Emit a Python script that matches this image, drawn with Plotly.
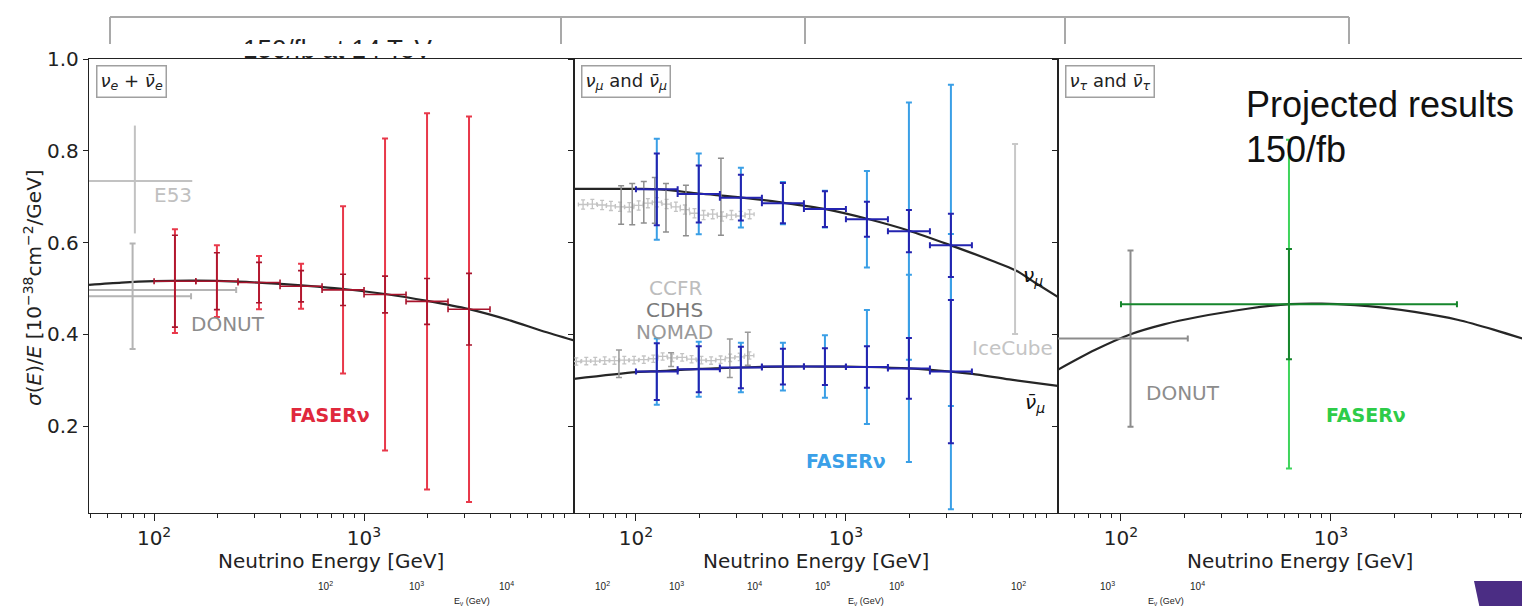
import math
import plotly.graph_objects as go

# ---------------- data ----------------
# FASERnu energy bins [GeV]
BIN_LO = [100, 158, 251, 398, 631, 1000, 1585, 2512]
BIN_HI = [158, 251, 398, 631, 1000, 1585, 2512, 3981]

# Panel 1 : nu_e + nubar_e
NUE_CURVE_E = [49, 70, 100, 160, 250, 400, 600, 800, 1260, 2000, 3160, 5000, 7000, 10000]
NUE_CURVE_Y = [0.508, 0.513, 0.516, 0.517, 0.515, 0.510, 0.504, 0.499, 0.488, 0.473, 0.455, 0.430, 0.408, 0.387]
NUE_Y = [0.516, 0.516, 0.513, 0.505, 0.497, 0.487, 0.472, 0.455]
NUE_ERR_TOT = [0.113, 0.078, 0.058, 0.049, 0.182, 0.340, 0.410, 0.420]
NUE_ERR_STAT = [0.100, 0.062, 0.044, 0.034, 0.034, 0.040, 0.050, 0.078]

E53_E = [81]
E53_Y = [0.734]
E53_YHI = [0.855]
E53_YLO = [0.620]
E53_ELO = [35]
E53_EHI = [152]

DONUT_E_E = [79, 80]
DONUT_E_Y = [0.483, 0.497]
DONUT_E_YERR = [0.115, 0.0]
DONUT_E_ELO = [35, 35]
DONUT_E_EHI = [150, 246]

# Panel 2 : nu_mu and nubar_mu
NUMU_CURVE_E = [50, 100, 130, 200, 320, 500, 800, 1260, 2000, 3160, 5000, 6400, 8000, 10200]
NUMU_CURVE_Y = [0.717, 0.717, 0.716, 0.707, 0.698, 0.687, 0.673, 0.652, 0.626, 0.594, 0.560, 0.540, 0.512, 0.482]
NUBAR_CURVE_E = [50, 100, 130, 200, 320, 500, 800, 1260, 2000, 3160, 4000, 6000, 10200]
NUBAR_CURVE_Y = [0.303, 0.318, 0.320, 0.325, 0.328, 0.330, 0.330, 0.329, 0.326, 0.319, 0.314, 0.302, 0.288]

NUMU_Y = [0.716, 0.706, 0.698, 0.686, 0.673, 0.651, 0.625, 0.594]
NUMU_ERR_TOT = [0.110, 0.088, 0.065, 0.046, 0.040, 0.105, 0.280, 0.350]
NUMU_ERR_STAT = [0.078, 0.062, 0.050, 0.044, 0.039, 0.038, 0.046, 0.069]
NUBAR_Y = [0.319, 0.324, 0.328, 0.330, 0.330, 0.329, 0.326, 0.319]
NUBAR_ERR_TOT = [0.072, 0.060, 0.054, 0.052, 0.068, 0.124, 0.204, 0.300]
NUBAR_ERR_STAT = [0.062, 0.050, 0.045, 0.039, 0.040, 0.045, 0.066, 0.156]

NUMU_CCFR_E = [56, 62, 69, 76, 84, 93, 103, 114, 126, 140, 155, 171, 190, 210, 232, 257, 285, 315, 348]
NUMU_CCFR_Y = [0.683, 0.684, 0.682, 0.680, 0.678, 0.677, 0.681, 0.686, 0.688, 0.684, 0.678, 0.672,
               0.664, 0.660, 0.662, 0.657, 0.660, 0.658, 0.662]
NUMU_CDHS_E = [85, 96, 109, 123, 139, 173, 254]
NUMU_CDHS_Y = [0.682, 0.684, 0.688, 0.692, 0.676, 0.670, 0.700]
NUMU_CDHS_ERR = [0.042, 0.045, 0.045, 0.050, 0.053, 0.055, 0.084]

NUBAR_CCFR_E = [52, 58, 64, 71, 79, 88, 98, 109, 121, 134, 149, 166, 184, 205, 228, 253, 281, 312, 347]
NUBAR_CCFR_Y = [0.341, 0.342, 0.342, 0.343, 0.343, 0.344, 0.344, 0.345, 0.347, 0.352, 0.349, 0.350,
                0.346, 0.344, 0.343, 0.345, 0.349, 0.351, 0.354]
NUBAR_CDHS_E = [83, 147, 280, 341]
NUBAR_CDHS_Y = [0.336, 0.345, 0.348, 0.369]
NUBAR_CDHS_ERR = [0.030, 0.015, 0.042, 0.036]

ICECUBE_E = [6390]
ICECUBE_Y = [0.608]
ICECUBE_ERR = [0.207]

# Panel 3 : nu_tau and nubar_tau
NUTAU_CURVE_E = [50, 75, 112, 160, 232, 400, 638, 900, 1300, 1730, 2500, 4000, 6000, 9700]
NUTAU_CURVE_Y = [0.323, 0.366, 0.401, 0.422, 0.438, 0.456, 0.466, 0.467, 0.464, 0.459, 0.449, 0.432, 0.410, 0.380]
NUTAU_LO = [100]
NUTAU_HI = [3981]
NUTAU_Y = [0.466]
NUTAU_ERR_TOT = [0.358]
NUTAU_ERR_STAT = [0.120]

DONUT_T_E = [111]
DONUT_T_Y = [0.391]
DONUT_T_YERR = [0.192]
DONUT_T_ELO = [35]
DONUT_T_EHI = [208]

X_TICKS = [100, 1000]
X_TICKTEXT = ["10<sup>2</sup>", "10<sup>3</sup>"]
X_MINOR = [50, 60, 70, 80, 90] + [m * 100 for m in range(2, 10)] + [m * 1000 for m in range(2, 10)]
Y_TICKS = [0.2, 0.4, 0.6, 0.8, 1.0]
Y_TICKTEXT = ["0.2", "0.4", "0.6", "0.8", "1.0"]

# ---------------- geometry ----------------
W, H = 1530, 606
ML, MR, MT, MB = 81, 0, 51, 101
PW = W - ML - MR
PH = H - MT - MB


def px(x):
    return (x - ML) / PW


def py(y):
    return (H - MB - y) / PH


D1 = [0.0, px(566)]
D2 = [px(566), px(1050)]
D3 = [px(1050), 1.0]
R1 = [1.69, 4.0]
R2 = [1.705, 4.01]
R3 = [1.70, 3.986]
YR = [0.011, 1.0]

FONT = "DejaVu Sans"
fig = go.Figure()


def centers(lo, hi):
    return [math.sqrt(a * b) for a, b in zip(lo, hi)]


def add_line(xs, ys, ax, color="#262626", width=2.2):
    fig.add_trace(go.Scatter(x=xs, y=ys, mode="lines", line=dict(color=color, width=width, shape="spline", smoothing=0.8),
                             xaxis="x" + ax, yaxis="y" + ax, showlegend=False, hoverinfo="skip"))


def add_err(xs, ys, ax, color, yerr=None, yplus=None, yminus=None, xplus=None, xminus=None, xcolor=None,
            cap=3, thick=1.6, xpct=None):
    ey = None
    if yerr is not None:
        ey = dict(type="data", array=yerr, color=color, thickness=thick, width=cap, visible=True)
    elif yplus is not None:
        ey = dict(type="data", array=yplus, arrayminus=yminus, symmetric=False, color=color, thickness=thick,
                  width=cap, visible=True)
    ex = None
    if xplus is not None:
        ex = dict(type="data", array=xplus, arrayminus=xminus, symmetric=False, color=xcolor or color,
                  thickness=thick, width=cap, visible=True)
    elif xpct is not None:
        ex = dict(type="percent", value=xpct, color=xcolor or color, thickness=thick, width=cap, visible=True)
    fig.add_trace(go.Scatter(x=xs, y=ys, mode="markers", marker=dict(size=1, color=color, opacity=0),
                             error_y=ey, error_x=ex, xaxis="x" + ax, yaxis="y" + ax,
                             showlegend=False, hoverinfo="skip"))


# ---------- panel 1 ----------
nue_x = centers(BIN_LO, BIN_HI)
add_line(NUE_CURVE_E, NUE_CURVE_Y, "")
add_err(E53_E, E53_Y, "", "#c2c2c2", yplus=[a - b for a, b in zip(E53_YHI, E53_Y)],
        yminus=[b - a for a, b in zip(E53_YLO, E53_Y)],
        xplus=[h - e for h, e in zip(E53_EHI, E53_E)], xminus=[e - l for l, e in zip(E53_ELO, E53_E)], cap=0, thick=2)
add_err(DONUT_E_E, DONUT_E_Y, "", "#b4b4b4", yerr=DONUT_E_YERR,
        xplus=[h - e for h, e in zip(DONUT_E_EHI, DONUT_E_E)], xminus=[e - l for l, e in zip(DONUT_E_ELO, DONUT_E_E)],
        cap=3, thick=2)
add_err(nue_x, NUE_Y, "", "#e8384a", yerr=NUE_ERR_TOT, cap=3, thick=2)
add_err(nue_x, NUE_Y, "", "#a8142c", yerr=NUE_ERR_STAT,
        xplus=[h - c for h, c in zip(BIN_HI, nue_x)], xminus=[c - l for l, c in zip(BIN_LO, nue_x)], cap=3, thick=1.6)

# ---------- panel 2 ----------
mu_x = centers(BIN_LO, BIN_HI)
add_line(NUMU_CURVE_E, NUMU_CURVE_Y, "2")
add_line(NUBAR_CURVE_E, NUBAR_CURVE_Y, "2")
add_err(NUMU_CCFR_E, NUMU_CCFR_Y, "2", "#c4c4c4", yerr=[0.01] * len(NUMU_CCFR_E), xpct=5, cap=2, thick=1.3)
add_err(NUBAR_CCFR_E, NUBAR_CCFR_Y, "2", "#c4c4c4", yerr=[0.008] * len(NUBAR_CCFR_E), xpct=5, cap=2, thick=1.3)
add_err(NUMU_CDHS_E, NUMU_CDHS_Y, "2", "#8e8e8e", yerr=NUMU_CDHS_ERR, cap=3, thick=1.5)
add_err(NUBAR_CDHS_E, NUBAR_CDHS_Y, "2", "#9a9a9a", yerr=NUBAR_CDHS_ERR, cap=3, thick=1.5)
add_err(ICECUBE_E, ICECUBE_Y, "2", "#c8c8c8", yerr=ICECUBE_ERR, cap=3, thick=2)
add_err(mu_x, NUMU_Y, "2", "#3a9fe6", yerr=NUMU_ERR_TOT, cap=3, thick=2)
add_err(mu_x, NUBAR_Y, "2", "#3a9fe6", yerr=NUBAR_ERR_TOT, cap=3, thick=2)
xp = [h - c for h, c in zip(BIN_HI, mu_x)]
xm = [c - l for l, c in zip(BIN_LO, mu_x)]
add_err(mu_x, NUMU_Y, "2", "#2424b0", yerr=NUMU_ERR_STAT, xplus=xp, xminus=xm, cap=3, thick=2)
add_err(mu_x, NUBAR_Y, "2", "#2424b0", yerr=NUBAR_ERR_STAT, xplus=xp, xminus=xm, cap=3, thick=2)

# ---------- panel 3 ----------
tau_x = centers(NUTAU_LO, NUTAU_HI)
add_line(NUTAU_CURVE_E, NUTAU_CURVE_Y, "3")
add_err(DONUT_T_E, DONUT_T_Y, "3", "#8c8c8c", yerr=DONUT_T_YERR,
        xplus=[h - e for h, e in zip(DONUT_T_EHI, DONUT_T_E)], xminus=[e - l for l, e in zip(DONUT_T_ELO, DONUT_T_E)],
        cap=3, thick=2)
add_err(tau_x, NUTAU_Y, "3", "#3fd45c", yerr=NUTAU_ERR_TOT, cap=3, thick=2)
add_err(tau_x, NUTAU_Y, "3", "#16862c", yerr=NUTAU_ERR_STAT,
        xplus=[h - c for h, c in zip(NUTAU_HI, tau_x)], xminus=[c - l for l, c in zip(NUTAU_LO, tau_x)],
        cap=3, thick=2)


# ---------------- axes ----------------
def xaxis(dom, rng, anchor):
    return dict(type="log", domain=dom, range=rng, anchor=anchor, showgrid=False, zeroline=False,
                showline=True, linecolor="#222", linewidth=1.4, mirror=True,
                ticks="outside", ticklen=7, tickwidth=1.3, tickcolor="#222",
                tickvals=X_TICKS, ticktext=X_TICKTEXT, tickfont=dict(family=FONT, size=20, color="#222"),
                minor=dict(tickvals=X_MINOR, ticks="outside", ticklen=4, tickwidth=1.1, tickcolor="#222"))


def yaxis(anchor, labels):
    return dict(domain=[0, 1], range=YR, anchor=anchor, showgrid=False, zeroline=False,
                showline=True, linecolor="#222", linewidth=1.4, mirror=True,
                ticks="outside", ticklen=5, tickwidth=1.3, tickcolor="#222",
                tickvals=Y_TICKS, ticktext=Y_TICKTEXT, showticklabels=labels,
                tickfont=dict(family=FONT, size=20, color="#222"))


ann = []


def text(x, y, s, color="#222", size=20, xanchor="center", family=FONT, **kw):
    ann.append(dict(x=px(x), y=py(y), xref="paper", yref="paper", text=s, showarrow=False,
                    xanchor=xanchor, yanchor="middle", font=dict(family=family, size=size, color=color), **kw))


# background title (only the tops of the glyphs show) and the white sheet covering it
text(330, 41, "150/fb at 14 TeV", color="#222", size=26, family="Liberation Sans, Arial")
ann.append(dict(x=px(170), y=py(36), xref="paper", yref="paper", text=" ", showarrow=False,
                xanchor="left", yanchor="top", width=330, height=12, bgcolor="white",
                borderpad=0, borderwidth=0, font=dict(size=6)))

# axis titles
for cx in (323, 808, 1292):
    text(cx, 553, "Neutrino Energy [GeV]")
text(25, 280, "<i>σ</i>(<i>E</i>)/<i>E</i> [10<sup>−38</sup>cm<sup>−2</sup>/GeV]", textangle=-90)

# panel label boxes
for x0, s in ((88, "<i>ν<sub>e</sub></i> + <i>ν̄<sub>e</sub></i>"),
              (573, "<i>ν<sub>μ</sub></i> and <i>ν̄<sub>μ</sub></i>"),
              (1057, "<i>ν<sub>τ</sub></i> and <i>ν̄<sub>τ</sub></i>")):
    ann.append(dict(x=px(x0), y=py(57), xref="paper", yref="paper", text=s, showarrow=False,
                    xanchor="left", yanchor="top", font=dict(family=FONT, size=18, color="#222"),
                    bordercolor="#a0a0a0", borderwidth=1.5, borderpad=3, bgcolor="white"))

# data labels
text(165, 187, "E53", color="#c0c0c0")
text(220, 316, "DONUT", color="#8c8c8c")
text(322, 407, "<b>FASERν</b>", color="#e0283c", size=19)
text(667, 280, "CCFR", color="#bdbdbd")
text(666, 302, "CDHS", color="#7a7a7a")
text(666, 324, "NOMAD", color="#999999")
text(1005, 340, "IceCube", color="#c4c4c4")
text(838, 453, "<b>FASERν</b>", color="#3aa0e8", size=19)
text(1025, 268, "<i>ν<sub>μ</sub></i>", color="#111")
text(1027, 395, "<i>ν̄<sub>μ</sub></i>", color="#111")
text(1175, 385, "DONUT", color="#8c8c8c")
text(1358, 407, "<b>FASERν</b>", color="#2ecc48", size=19)

# projected results
text(1236, 96, "Projected results", color="#111", size=36, xanchor="left", family="Liberation Sans, Arial")
text(1236, 141, "150/fb", color="#111", size=36, xanchor="left", family="Liberation Sans, Arial")

# small background-figure tick labels
for x, s in ((317, "10<sup>2</sup>"), (408, "10<sup>3</sup>"), (498, "10<sup>4</sup>"),
             (594, "10<sup>2</sup>"), (668, "10<sup>3</sup>"), (746, "10<sup>4</sup>"),
             (814, "10<sup>5</sup>"), (889, "10<sup>6</sup>"),
             (1010, "10<sup>2</sup>"), (1099, "10<sup>3</sup>"), (1189, "10<sup>4</sup>")):
    text(x, 578, s, size=10, family="Liberation Sans Narrow, Liberation Sans, Arial")
for x in (464, 858, 1158):
    text(x, 593, "E<sub>ν</sub> (GeV)", size=9, family="Liberation Sans Narrow, Liberation Sans, Arial")

# ---------------- shapes ----------------
shp = []
GRAY = "#a9a9a9"


def seg(x0, y0, x1, y1, color=GRAY, w=2):
    shp.append(dict(type="line", xref="paper", yref="paper", x0=px(x0), y0=py(y0), x1=px(x1), y1=py(y1),
                    line=dict(color=color, width=w)))


seg(102, 9, 1341, 9)
for xv in (102, 553, 797, 1057, 1341):
    seg(xv, 9, xv, 36)
# purple logo corner
shp.append(dict(type="path", xref="paper", yref="paper",
                path="M {} {} L {} {} L {} {} L {} {} Z".format(px(1466), py(573), px(1522), py(573),
                                                                px(1515), py(606), px(1473), py(606)),
                fillcolor="#4b2d84", line=dict(width=0)))

fig.update_layout(
    width=W, height=H, autosize=False,
    margin=dict(l=ML, r=MR, t=MT, b=MB, pad=0),
    paper_bgcolor="white", plot_bgcolor="rgba(0,0,0,0)",
    xaxis=xaxis(D1, R1, "y"), yaxis=yaxis("x", True),
    xaxis2=xaxis(D2, R2, "y2"), yaxis2=yaxis("x2", False),
    xaxis3=xaxis(D3, R3, "y3"), yaxis3=yaxis("x3", False),
    annotations=ann, shapes=shp, showlegend=False,
)

fig.write_html("out.html")
